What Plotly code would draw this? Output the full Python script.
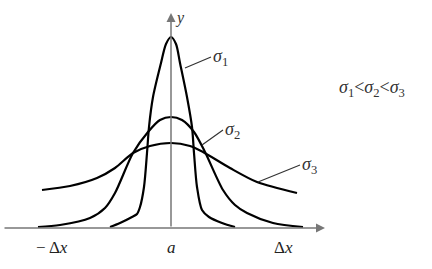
import plotly.graph_objects as go

# Data: x offset from a, y height above the baseline (chart units)
s1_x = [-61, -51, -39, -34, -31, -27, -24, -22, -18, -10, -5, 0, 5, 9, 16, 21, 23, 26, 31, 38, 51, 64]
s1_y = [1, 5, 11, 14, 21, 41, 75, 101, 131, 165, 184, 191, 184, 165, 131, 101, 75, 41, 18, 11, 5, 1]

s2_x = [-133, -111, -81, -66, -56, -38, -23, -11, 0, 11, 23, 34, 52, 64, 76, 102, 132]
s2_y = [1, 3, 10, 20, 35, 75, 96, 108, 111, 108, 96, 76, 38, 23, 15, 5, 1]

s3_x = [-129, -101, -74, -56, -38, -21, 0, 19, 32, 59, 86, 126]
s3_y = [38, 42, 50, 60, 75, 82, 85, 82, 76, 60, 46, 35]

tick_labels = ["\u2212 \u0394<i>x</i>", "<i>a</i>", "\u0394<i>x</i>"]
tick_pos = [-119, 0, 112]

FONT = "Liberation Serif"

fig = go.Figure()
for xs, ys in [(s1_x, s1_y), (s2_x, s2_y), (s3_x, s3_y)]:
    fig.add_trace(go.Scatter(x=xs, y=ys, mode="lines",
                             line=dict(color="black", width=2.2, shape="spline", smoothing=0.8),
                             hoverinfo="skip", showlegend=False))

anns = []
# axes with arrows
anns.append(dict(x=154, y=0, ax=-168, ay=0, xref="x", yref="y", axref="x", ayref="y",
                 showarrow=True, arrowhead=2, arrowsize=1.2, arrowwidth=1.5,
                 arrowcolor="#777777", text=""))
anns.append(dict(x=0, y=215, ax=0, ay=0, xref="x", yref="y", axref="x", ayref="y",
                 showarrow=True, arrowhead=2, arrowsize=1.2, arrowwidth=1.5,
                 arrowcolor="#777777", text=""))
anns.append(dict(x=9, y=210, text="<i>y</i>", showarrow=False,
                 font=dict(family=FONT, size=16, color="#333333")))
for p, t in zip(tick_pos, tick_labels):
    anns.append(dict(x=p, y=-19, text=t, showarrow=False,
                     font=dict(family=FONT, size=17, color="#222222")))

# sigma labels with leader lines
labels = [("<i>\u03c3</i><sub>1</sub>", 14, 160, 40, 171),
          ("<i>\u03c3</i><sub>2</sub>", 31, 83, 52, 98),
          ("<i>\u03c3</i><sub>3</sub>", 87, 46, 129, 63)]
for t, px, py, tx, ty in labels:
    anns.append(dict(x=px, y=py, ax=tx, ay=ty, xref="x", yref="y", axref="x", ayref="y",
                     text=t, showarrow=True, arrowhead=0, arrowwidth=1.2,
                     arrowcolor="#333333", standoff=0, startstandoff=0,
                     xanchor="left", font=dict(family=FONT, size=18, color="#333333")))
anns.append(dict(x=201, y=140, text="<i>\u03c3</i><sub>1</sub>&lt;<i>\u03c3</i><sub>2</sub>&lt;<i>\u03c3</i><sub>3</sub>",
                 showarrow=False, font=dict(family=FONT, size=18, color="#333333")))

fig.update_layout(
    width=432, height=269, margin=dict(l=0, r=0, t=0, b=0),
    paper_bgcolor="white", plot_bgcolor="white",
    font=dict(family=FONT),
    xaxis=dict(range=[-171, 261], visible=False, fixedrange=True),
    yaxis=dict(range=[-41, 228], visible=False, fixedrange=True),
    annotations=anns,
)
fig.write_html("out.html")
